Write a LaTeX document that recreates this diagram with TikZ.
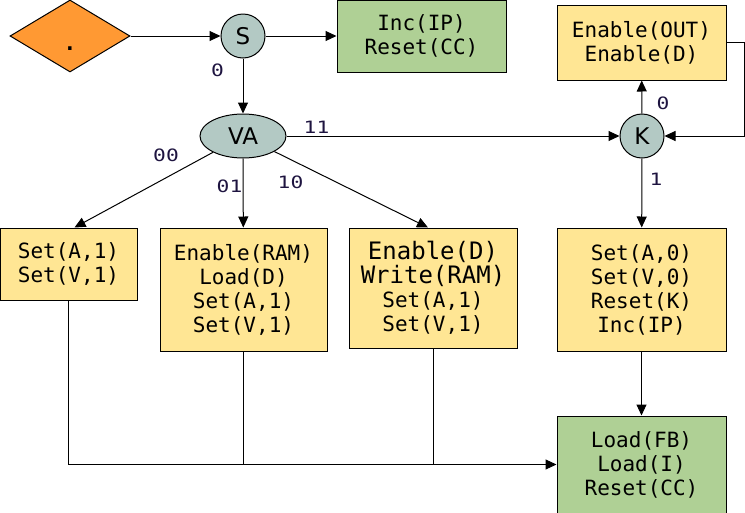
\documentclass[tikz,border=0pt]{standalone}
\usepackage{fontspec}
\newfontfamily\boxfont{DejaVu Sans Mono}
\newfontfamily\circfont{DejaVu Sans}
\newfontfamily\lblfont[FakeStretch=1.25]{DejaVu Sans Mono}
\usepackage{tikz}
\usetikzlibrary{positioning,shapes,arrows.meta}
\definecolor{orangefill}{RGB}{255,153,51}
\definecolor{grayfill}{RGB}{179,201,196}
\definecolor{greenfill}{RGB}{175,208,149}
\definecolor{yellowfill}{RGB}{255,230,148}
\definecolor{lblcolor}{RGB}{30,20,64}
\tikzstyle{arrow} = [line width=1pt,-{Triangle[length=11pt,width=10pt]}]
\tikzstyle{line} = [line width=1pt]
\tikzstyle{act} = [rectangle, draw=black, line width=1pt, fill=yellowfill, text=black, align=center, inner sep=0pt, font=\boxfont\fontsize{21}{24}\selectfont]
\tikzstyle{test} = [circle, minimum size=44pt, inner sep=0pt, fill=grayfill, draw=black, line width=1pt, font=\circfont\fontsize{23}{26}\selectfont]
\tikzstyle{lbl} = [inner sep=0pt, text=lblcolor, font=\lblfont\fontsize{17}{20}\selectfont]

\begin{document}
\begin{tikzpicture}[x=1pt,y=-1pt]
	\useasboundingbox (0,0) rectangle (745,512);
	\clip (0,0) rectangle (745,512);
	\node (start) [diamond, aspect=1.667, minimum width=120pt, minimum height=72pt, inner sep=0pt, fill=orangefill, draw=black, line width=1pt, font=\boxfont\bfseries\fontsize{21}{24}\selectfont] at (70,36) {\raisebox{-28pt}{.}};
	\node (s) [test] at (243,36) {S};
	\node (inc) [act, fill=greenfill, minimum width=169pt, minimum height=72pt] at (421.5,36) {Inc(IP)\\Reset(CC)};
	\node (va) [test, ellipse, minimum width=86pt, minimum height=44pt] at (243,136) {VA};
	\node (k) [test] at (642,136) {K};
	\node (out) [act, minimum width=169pt, minimum height=75pt] at (641.5,42.5) {Enable(OUT)\\Enable(D)};
\node (b1) [act, minimum width=137pt, minimum height=72pt] at (68.5,264) {Set(A,1)\\Set(V,1)};
\node (b2) [act, minimum width=167pt, minimum height=123pt] at (243.5,289.5) {Enable(RAM)\\Load(D)\\Set(A,1)\\Set(V,1)};
\node (b3) [act, minimum width=168pt, minimum height=120pt] at (433,288) {\fontsize{24}{27}\selectfont Enable(D)\\\fontsize{24}{27}\selectfont Write(RAM)\\Set(A,1)\\Set(V,1)};
\node (b4) [act, minimum width=169pt, minimum height=123pt] at (641.5,289.5) {Set(A,0)\\Set(V,0)\\Reset(K)\\Inc(IP)};
\node (load) [act, fill=greenfill, minimum width=169pt, minimum height=97pt] at (641.5,464.5) {Load(FB)\\Load(I)\\Reset(CC)};
\node (l0s) [lbl] at (217.5,70.5) {0};
\node (l11) [lbl] at (316.5,127) {11};
\node (l00) [lbl] at (166,155.5) {00};
\node (l01) [lbl] at (229.5,186.5) {01};
\node (l10) [lbl] at (290.5,182.5) {10};
\node (l0k) [lbl] at (663,103.5) {0};
\node (l1k) [lbl] at (656,179) {1};
\draw[arrow] (start) -- (s);
\draw[arrow] (s) -- (inc);
\draw[arrow] (s) -- (va);
\draw[arrow] (va) -- (k);
\draw[arrow] (k) -- (out);
\draw[arrow] (out.east) -- ++(18,0) |- (k);
\draw[arrow] (k) -- (b4);
\draw[arrow] (b4) -- (load);
\draw[arrow] (va) -- ([xshift=6pt]b1.north);
\draw[arrow] (va) -- (b2);
\draw[arrow] (va) -- ([xshift=-5pt]b3.north);
\draw[arrow] (b1.south) |- (load.west);
\draw[line] (b2.south) -- (b2.south |- load.west);
\draw[line] (b3.south) -- (b3.south |- load.west);
\end{tikzpicture}
\end{document}
